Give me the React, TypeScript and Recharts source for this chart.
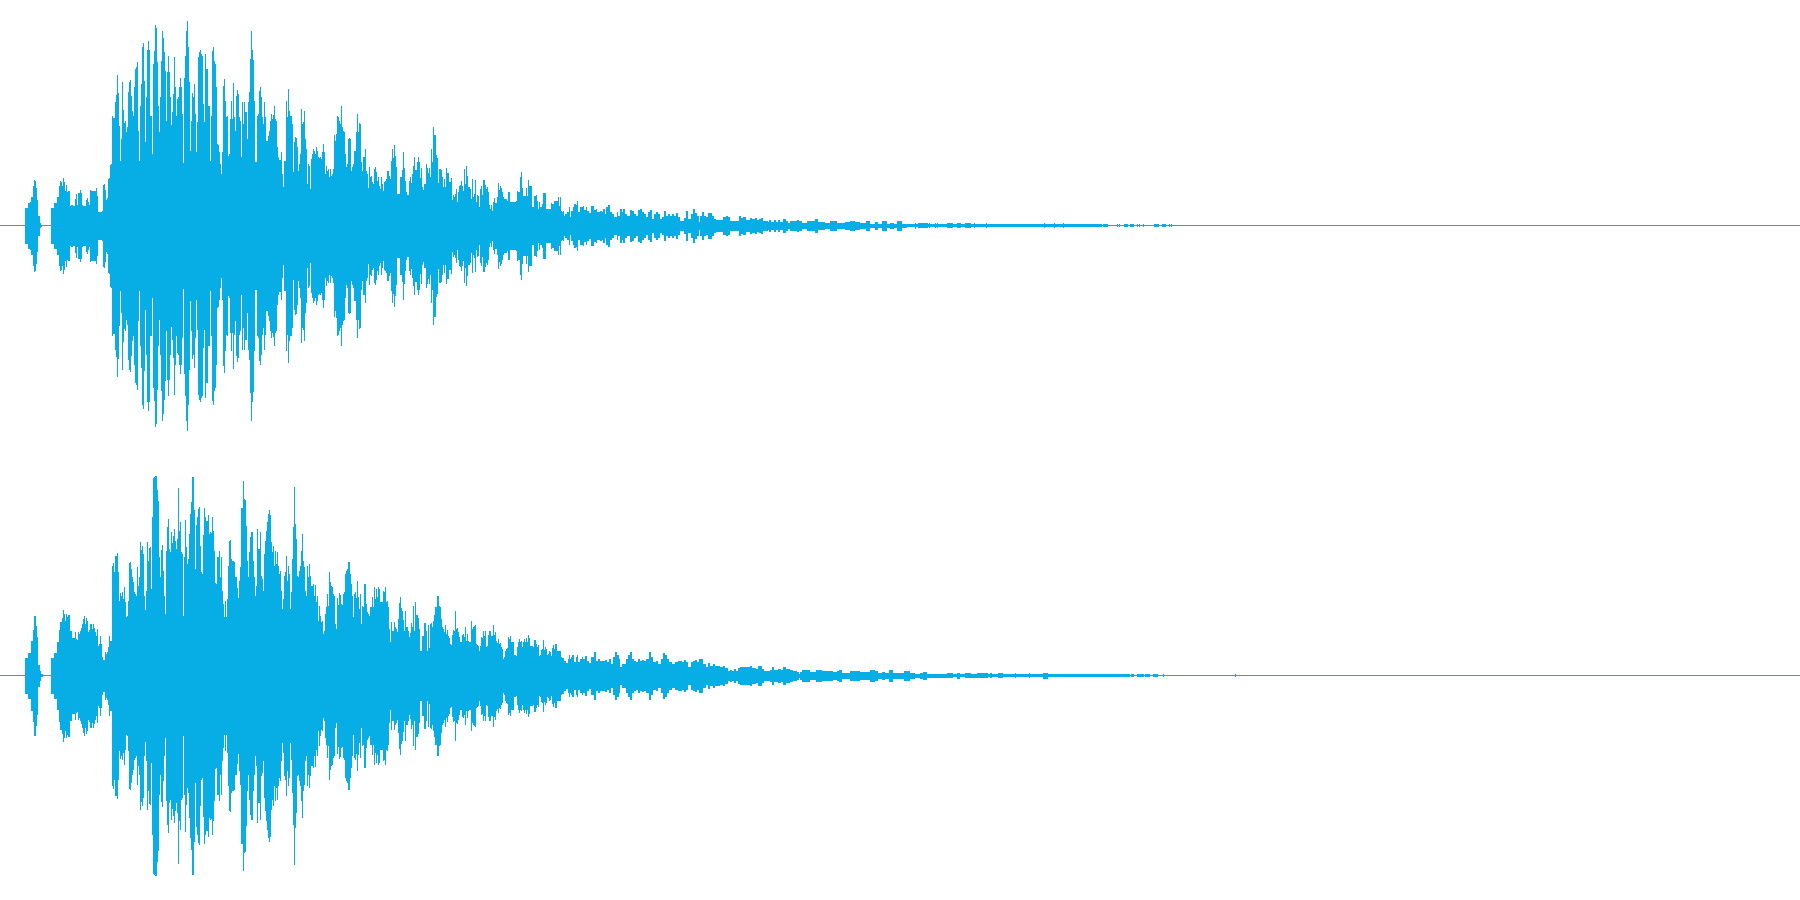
import { Area, AreaChart, ReferenceLine, XAxis, YAxis } from "recharts"

const WAVE_COLOR = "#07aee5"

// peak level of each column, starting at x = 25
const leftColumns = [
  18,18,18,23,23,24,29,29,40,46,45,38,26,10,10,2.5,1,
  0.5,0.5,0.5,0.5,0.5,0.5,0.5,0.5,0.5,
  18,18,18,23,23,23,29,29,40,45,44,40,48,44,35,41,34,35,35,20,21,21,20,20,27,32,21,33,33,36,33,21,
  20,20,20,26,28,24,21,36,35,35,35,35,35,38,30,14,14,14,14,15,41,42,36,26,28,47,48,61,62,
  110,108,108,124,131,151,133,100,65,87,
  144,116,103,105,94,99,134,144,146,130,
  115,110,139,157,159,164,95,65,120,142,
  179,183,145,84,129,176,185,176,110,110,
  72,162,175,201,198,164,120,94,129,165,
  195,188,174,155,105,154,170,154,129,101,
  114,132,169,139,110,127,129,139,148,139,
  112,63,148,170,195,205,179,144,75,105,
  133,129,142,112,74,104,169,174,176,172,
  170,122,104,172,157,157,120,120,65,110,
  175,179,165,162,139,82,81,74,62,52,
  74,140,147,125,109,110,70,72,107,125,
  107,143,109,95,130,136,132,109,105,69,
  124,102,124,114,114,87,124,134,167,195,
  176,166,125,64,64,110,112,135,139,129,
  109,102,124,109,85,85,90,95,105,112,
  107,111,120,107,105,79,69,66,66,74,
  52,39,65,65,125,109,137,115,110,110,
  102,54,84,89,88,79,55,62,72,117,
  102,104,115,87,77,42,62,60,37,67,
  72,77,75,72,79,75,69,68,69,67,
  74,82,74,52,60,55,57,49,57,50,
  52,57,91,85,92,110,109,105,102,120,
  99,95,94,72,59,62,87,88,87,55,
  59,62,75,75,94,112,94,103,102,64,
  55,69,69,77,55,52,38,59,49,50,
  44,42,57,59,54,45,49,40,37,49,
  42,35,44,45,47,55,55,50,47,65,
  77,68,81,70,59,32,32,32,
  49,49,56,74,58,45,34,31,31,45,
  49,43,52,60,69,56,56,64,69,64,
  48,58,39,36,42,42,62,58,53,58,
  49,77,64,99,91,91,71,68,43,57,
  57,56,49,39,47,39,58,53,53,44,
  44,48,26,31,29,32,37,24,34,40,
  41,45,40,35,57,42,60,50,39,39,
  37,27,47,29,32,46,24,31,30,19,
  37,40,31,46,46,41,37,39,34,21,
  17,21,15,24,28,23,23,29,43,36,
  40,38,34,29,27,27,27,25,34,34,
  24,24,24,24,24,24,25,35,34,34,
  49,54,38,30,30,30,38,30,46,40,
]

// [x, level] where the level changes along the decay
const leftTail = [
  [532,19],[534,30],[536,31],[537,25],[538,17],[539,24],[540,19],[542,22],[543,33],[546,17],[551,23],[552,22],
  [554,25],[558,29],[559,20],[560,29],[561,15],[562,14],[563,15],[564,10],[565,12],[567,14],[569,19],[570,9],
  [571,15],[573,19],[574,22],[576,21],[577,25],[578,14],[580,19],[583,20],[584,16],[586,19],[587,15],[589,13],
  [591,20],[594,16],[596,17],[597,14],[600,15],[602,14],[603,17],[605,12],[606,19],[608,21],[610,14],[612,12],
  [614,9],[617,14],[618,10],[620,17],[622,14],[623,17],[625,12],[627,10],[630,16],[632,15],[634,12],[636,10],
  [638,16],[640,17],[642,14],[644,12],[646,9],[648,14],[650,16],[652,7],[654,12],[656,14],[658,12],[660,7],
  [662,9],[664,15],[666,10],[668,12],[670,10],[672,12],[674,10],[676,13],[678,9],[680,5],[684,8],[686,15],
  [688,7],[691,12],[693,17],[695,13],[697,10],[699,4],[700,10],[702,14],[704,10],[706,9],[708,13],[712,10],
  [714,7],[716,6],[723,9],[726,10],[728,9],[730,5],[739,10],[741,8],[743,9],[746,6],[750,8],[752,7],
  [755,8],[757,6],[759,7],[761,8],[763,5],[768,4],[769,6],[771,4],[774,6],[776,4],[778,6],[780,4],
  [783,7],[786,5],[788,3],[790,5],[797,6],[799,5],[802,3],[807,5],[815,7],[818,4],[825,3],[830,5],
  [837,3],[845,4],[850,5],[855,4],[860,3],[866,5],[870,2],[875,4],[878,2],[882,5],[887,2],[890,3],
  [894,2],[897,5],[902,2],[907,1.5],[915,3],[916,1.5],[918,2.5],[928,1.5],[929,2.5],[930,1.5],[935,2.5],[936,1.5],
  [937,2.5],[938,1.5],[947,2.5],[953,1.5],[957,2.5],[961,1.5],[965,2.5],[971,1.5],[974,2.5],[975,1.5],[986,2.5],[987,1.5],
  [1044,2.5],[1045,1.5],[1054,2.5],[1055,1.5],[1063,2.5],[1064,1.5],[1102,0.5],[1103,1.5],[1108,0.5],[1117,1.5],[1118,0.5],[1119,1.5],
  [1120,0.5],[1124,1.5],[1128,0.5],[1130,1.5],[1134,0.5],[1137,1.5],[1138,0.5],[1139,1.5],[1140,0.5],[1143,1.5],[1144,0.5],[1154,1.5],
  [1159,0.5],[1162,1.5],[1166,0.5],[1169,1.5],[1170,0.5],[1171,1.5],[1172,0.5],[1800,0.5],
]

const rightColumns = [
  18,18,18,23,23,23,35,35,46,60,60,50,39,11,11,5,1.5,1.5,
  0.5,0.5,0.5,0.5,0.5,0.5,0.5,0.5,
  18,18,18,23,23,23,34,34,46,54,54,58,66,62,55,62,59,61,61,45,45,38,38,38,44,37,36,44,42,45,48,52,57,60,52,58,55,44,46,52,52,47,52,48,44,40,47,30,32,40,32,19,16,16,24,22,24,29,40,35,35,
  110,113,104,120,120,123,104,75,83,80,
  84,77,89,74,59,60,75,113,114,107,
  99,94,84,82,80,109,90,99,134,126,
  130,122,80,66,85,134,115,128,129,87,
  159,198,199,200,200,186,175,119,99,126,
  131,105,80,62,125,149,157,127,124,144,
  133,140,147,135,127,137,188,145,154,124,
  122,60,119,156,129,112,117,142,162,174,
  199,199,166,107,151,159,167,169,130,104,
  102,141,168,159,155,155,161,142,144,143,
  159,145,125,93,92,119,119,125,99,119,
  85,72,59,75,59,77,110,135,136,117,
  115,115,114,99,99,88,78,95,109,168,
  168,195,177,176,150,115,99,124,139,144,
  144,115,99,80,90,147,127,127,144,100,
  97,85,122,135,145,154,162,166,161,134,
  124,130,110,125,112,124,110,102,105,85,
  67,77,100,104,120,95,110,102,67,84,
  117,149,189,152,137,100,99,105,110,125,
  142,115,109,85,80,110,99,112,100,90,
  90,92,80,91,74,80,55,70,60,54,
  55,42,45,62,69,82,70,104,94,90,
  89,82,80,52,47,78,71,83,81,72,
  71,82,84,102,105,107,114,114,102,92,
  80,59,82,84,78,95,79,67,82,52,
  70,69,92,92,72,64,62,60,69,69,
  79,69,89,77,87,79,89,87,74,74,
  74,85,84,89,74,75,69,47,34,54,
  45,45,54,49,47,44,57,73,
  79,68,65,56,45,65,49,49,45,39,43,53,49,70,45,74,61,61,58,47,
  25,25,40,40,53,53,45,25,51,28,52,53,49,55,61,69,69,80,80,70,
  69,57,49,47,44,51,42,46,40,38,32,31,41,46,45,65,47,48,44,39,
  34,34,41,42,39,49,35,42,35,34,34,55,47,49,50,51,32,31,30,25,
  30,39,38,45,40,45,29,30,41,45,45,40,40,51,41,44,35,33,37,32,
  33,29,27,17,19,25,27,28,39,37,40,34,34,34,21,21,20,29,34,37,
]

const rightTail = [
  [520,34],[521,35],[522,29],[523,34],[524,37],[525,34],[526,38],[527,34],[528,41],[529,38],[530,30],[533,29],
  [534,36],[536,32],[537,29],[538,31],[539,20],[540,21],[541,26],[542,27],[543,36],[544,26],[545,29],[546,27],
  [547,21],[548,22],[549,25],[550,24],[551,20],[552,28],[553,31],[554,27],[555,32],[557,25],[561,19],[562,18],
  [564,15],[566,13],[568,17],[569,21],[570,17],[571,19],[572,21],[574,14],[576,19],[577,21],[578,14],[580,17],
  [582,19],[583,17],[585,20],[587,15],[589,13],[591,19],[594,24],[596,15],[598,17],[600,15],[603,15],[605,16],
  [607,14],[609,17],[611,12],[613,19],[615,24],[617,21],[619,17],[620,9],[622,12],[626,17],[628,21],[630,24],
  [632,17],[634,15],[636,14],[638,17],[640,15],[642,16],[644,15],[646,17],[649,24],[651,19],[653,14],[656,15],
  [658,12],[661,17],[663,23],[665,21],[667,17],[669,14],[672,12],[675,14],[678,15],[680,15],[682,14],[684,16],
  [686,14],[688,9],[691,14],[693,15],[695,16],[697,14],[699,17],[703,12],[706,9],[708,13],[710,10],[713,12],
  [715,10],[717,10],[720,9],[723,10],[725,8],[728,5],[730,6],[732,5],[734,7],[736,5],[738,8],[740,9],
  [744,9],[748,9],[750,10],[752,8],[756,7],[758,10],[762,7],[764,5],[770,6],[772,9],[774,6],[778,7],
  [781,6],[783,9],[786,7],[790,6],[793,5],[797,4],[799,2],[800,4],[802,6],[807,6],[810,4],[816,6],
  [819,6],[822,5],[833,4],[837,5],[839,6],[842,3],[850,5],[860,4],[870,6],[875,5],[878,3],[882,4],
  [885,3],[889,6],[893,3],[904,5],[910,3],[915,2],[920,3],[923,4],[927,2],[947,2.5],[953,1.5],[957,3],
  [960,1.5],[965,2.5],[971,2],[975,2],[977,2.5],[988,1.5],[990,2.5],[992,1.5],[998,2.5],[1003,1.5],[1015,2.5],[1016,1.5],
  [1029,2.5],[1030,1.5],[1043,3],[1048,1.5],[1130,0.5],[1131,1.5],[1134,0.5],[1137,1.5],[1144,0.5],[1145,1.5],[1150,0.5],[1153,1.5],
  [1158,0.5],[1163,1.5],[1164,0.5],[1235,1.5],[1236,0.5],[1800,0.5],
]

const toRows = (columns: number[], tail: number[][]) => [
  { x: 0, range: [-0.5, 0.5] },
  ...columns.map((level, i) => ({ x: 25 + i, range: [-level, level] })),
  ...tail.map(([x, level]) => ({ x, range: [-level, level] })),
]

const leftRows = toRows(leftColumns, leftTail)
const rightRows = toRows(rightColumns, rightTail)

function Channel({ rows, top }: { rows: any[]; top: number }) {
  return (
    <div style={{ position: "absolute", left: 0, top }}>
      <AreaChart width={1800} height={451} data={rows} margin={{ top: 0, right: 0, bottom: 0, left: 0 }}>
        <XAxis type="number" dataKey="x" domain={[0, 1800]} hide />
        <YAxis type="number" domain={[-225.5, 225.5]} hide />
        <ReferenceLine y={0} stroke={WAVE_COLOR} strokeWidth={1} />
        <Area
          type="stepAfter"
          dataKey="range"
          stroke="none"
          fill={WAVE_COLOR}
          fillOpacity={1}
          shapeRendering="crispEdges"
          dot={false}
          activeDot={false}
          isAnimationActive={false}
        />
      </AreaChart>
    </div>
  )
}

export default function App() {
  return (
    <div style={{ position: "absolute", left: 0, top: 0, width: 1800, height: 900, background: "#ffffff" }}>
      <Channel rows={leftRows} top={0} />
      <Channel rows={rightRows} top={450} />
    </div>
  )
}
